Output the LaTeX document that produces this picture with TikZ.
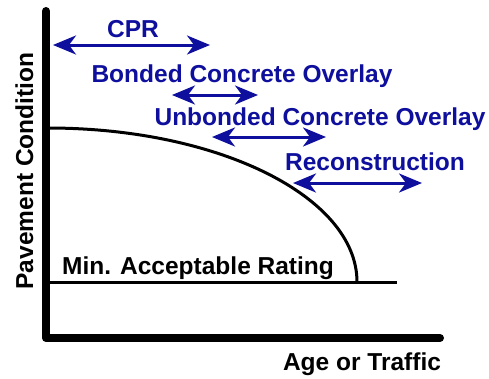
\documentclass[tikz,border=0pt]{standalone}
\usepackage{fontspec}
\setmainfont{Liberation Sans}
\usetikzlibrary{arrows.meta}
\definecolor{lblue}{HTML}{0F0F9E}
\begin{document}
\begin{tikzpicture}[x=1bp,y=-1bp,
  lbl/.style={font=\fontsize{24.5bp}{28bp}\selectfont\bfseries, inner sep=0pt, anchor=base},
  bluelbl/.style={lbl, text=lblue},
  span/.style={draw=lblue, line width=3bp,
    {Stealth[length=23bp,width=19bp,inset=7bp]}-{Stealth[length=23bp,width=19bp,inset=7bp]}},
  axis/.style={line width=8bp, line join=round, line cap=round},
  curve/.style={line width=3bp}]
\useasboundingbox (0,0) rectangle (489,378);
\fill[white] (0,0) rectangle (489,378);

% axes
\coordinate (ytop) at (46,11);
\coordinate (origin) at (46,338);
\coordinate (xend) at (440,338);
\draw[axis] (ytop) -- (origin) -- (xend);

% minimum rating line and deterioration curve
\coordinate (minL) at (46,282);
\coordinate (minR) at (397,282);
\draw[line width=3bp] (minL) -- (minR);
\coordinate (cstart) at (48,128);
\draw[curve] (cstart) arc[start angle=90, end angle=0, x radius=309, y radius=-154];

% labels
\node[lbl, rotate=90] (ylab) at (33,171) {Pavement Condition};
\node[lbl] (xlab) at (362,370) {Age or Traffic};
\node[lbl] (minlab) at (198,274) {Min. Acceptable Rating};

\node[bluelbl] (cpr) at (133,37) {CPR};
\node[bluelbl] (bco) at (242,82) {Bonded Concrete Overlay};
\node[bluelbl] (uco) at (320,125) {Unbonded Concrete Overlay};
\node[bluelbl] (rec) at (375,170) {Reconstruction};

% treatment windows
\coordinate (cprA) at (53,45);   \coordinate (cprB) at (210,45);
\coordinate (bcoA) at (172,95);  \coordinate (bcoB) at (258,95);
\coordinate (ucoA) at (212,137); \coordinate (ucoB) at (326,137);
\coordinate (recA) at (293,183); \coordinate (recB) at (422,183);
\draw[span] (cprA) -- (cprB);
\draw[span] (bcoA) -- (bcoB);
\draw[span] (ucoA) -- (ucoB);
\draw[span] (recA) -- (recB);
\end{tikzpicture}
\end{document}
